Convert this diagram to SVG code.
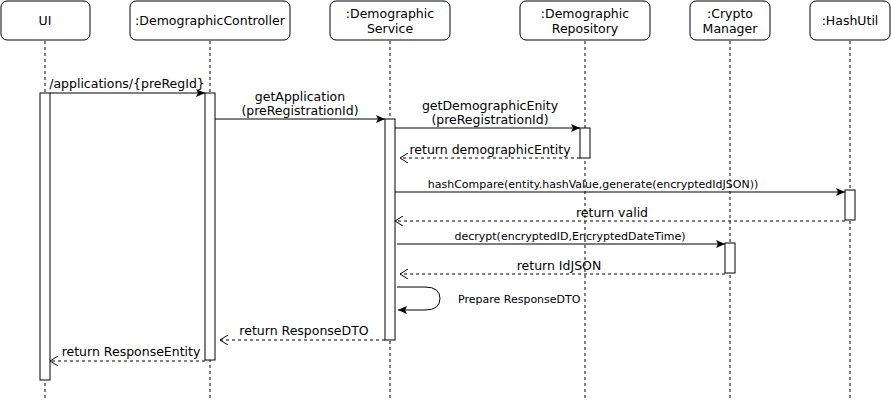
<svg xmlns="http://www.w3.org/2000/svg" width="891" height="401" viewBox="0 0 891 401">
<defs>
<style>
.box{fill:#fff;stroke:#000;stroke-width:1}
.life{stroke:#000;stroke-width:1;stroke-dasharray:3,3;fill:none}
.act{fill:#fff;stroke:#000;stroke-width:1}
.msg{stroke:#000;stroke-width:1;fill:none}
.ret{stroke:#000;stroke-width:1;fill:none;stroke-dasharray:3,3}
text{font-family:"DejaVu Sans","Open Sans",sans-serif;font-size:12.5px;fill:#000}
.t{text-anchor:middle}
.s{font-size:11px}
</style>
<marker id="fill" markerWidth="10" markerHeight="8" refX="9" refY="4" orient="auto" markerUnits="userSpaceOnUse">
<path d="M0,0 L9,4 L0,8 L2,4 Z" fill="#000"/>
</marker>
<marker id="open" markerWidth="10" markerHeight="10" refX="9" refY="5" orient="auto" markerUnits="userSpaceOnUse">
<path d="M1,0 L9,5 L1,10" fill="none" stroke="#000"/>
</marker>
</defs>
<rect width="891" height="401" fill="#fff"/>
<g id="lifelines">
<line class="life" x1="45" y1="41" x2="45" y2="401"/>
<line class="life" x1="210" y1="41" x2="210" y2="401"/>
<line class="life" x1="390" y1="41" x2="390" y2="401"/>
<line class="life" x1="585" y1="41" x2="585" y2="401"/>
<line class="life" x1="730" y1="41" x2="730" y2="401"/>
<line class="life" x1="850" y1="41" x2="850" y2="401"/>
</g>
<g id="ui">
<rect class="box" x="1" y="1" width="89" height="39" rx="6"/>
<text class="t" x="45" y="25">UI</text>
<rect class="act" x="40" y="93" width="10" height="287"/>
</g>
<g id="controller">
<rect class="box" x="130" y="1" width="160" height="39" rx="6"/>
<text class="t" x="210" y="25">:DemographicController</text>
<rect class="act" x="205" y="93" width="10" height="267"/>
</g>
<g id="service">
<rect class="box" x="330" y="1" width="120" height="39" rx="6"/>
<text class="t" x="390" y="18">:Demographic</text>
<text class="t" x="390" y="33">Service</text>
<rect class="act" x="385" y="119" width="10" height="221"/>
</g>
<g id="repository">
<rect class="box" x="520" y="1" width="130" height="39" rx="6"/>
<text class="t" x="585" y="18">:Demographic</text>
<text class="t" x="585" y="33">Repository</text>
<rect class="act" x="580" y="128" width="10" height="30"/>
</g>
<g id="crypto">
<rect class="box" x="690" y="1" width="80" height="39" rx="6"/>
<text class="t" x="730" y="18">:Crypto</text>
<text class="t" x="730" y="33">Manager</text>
<rect class="act" x="725" y="243" width="10" height="30"/>
</g>
<g id="hashutil">
<rect class="box" x="810" y="1" width="80" height="39" rx="6"/>
<text class="t" x="850" y="25">:HashUtil</text>
<rect class="act" x="845" y="190" width="10" height="30"/>
</g>
<g id="connectors">
<line class="msg" x1="50" y1="93" x2="205" y2="93" marker-end="url(#fill)"/>
<text class="t" x="127" y="88">/applications/{preRegId}</text>
<line class="msg" x1="215" y1="119" x2="385" y2="119" marker-end="url(#fill)"/>
<text class="t" x="300" y="101">getApplication</text>
<text class="t" x="300" y="115">(preRegistrationId)</text>
<line class="msg" x1="395" y1="128" x2="580" y2="128" marker-end="url(#fill)"/>
<text class="t" x="490" y="110">getDemographicEnity</text>
<text class="t" x="490" y="124">(preRegistrationId)</text>
<line class="ret" x1="580" y1="158" x2="400" y2="158" marker-end="url(#open)"/>
<text class="t" x="490" y="154">return demographicEntity</text>
<line class="msg" x1="395" y1="192" x2="845" y2="192" marker-end="url(#fill)"/>
<text class="t s" x="593" y="188">hashCompare(entity.hashValue,generate(encryptedIdJSON))</text>
<line class="ret" x1="845" y1="221" x2="395" y2="221" marker-end="url(#open)"/>
<text class="t" x="612" y="217">return valid</text>
<line class="msg" x1="397" y1="244" x2="725" y2="244" marker-end="url(#fill)"/>
<text class="t s" x="570" y="240">decrypt(encryptedID,EncryptedDateTime)</text>
<line class="ret" x1="725" y1="274" x2="400" y2="274" marker-end="url(#open)"/>
<text class="t" x="559" y="270">return IdJSON</text>
<path class="msg" d="M397,287 L425,287 Q440,287 440,298.5 Q440,310 425,310 L398,310" marker-end="url(#fill)"/>
<text class="s" x="458" y="303">Prepare ResponseDTO</text>
<line class="ret" x1="385" y1="340" x2="220" y2="340" marker-end="url(#open)"/>
<text class="t" x="304" y="335">return ResponseDTO</text>
<line class="ret" x1="205" y1="361" x2="50" y2="361" marker-end="url(#open)"/>
<text class="t" x="131" y="356">return ResponseEntity</text>
</g>
</svg>
